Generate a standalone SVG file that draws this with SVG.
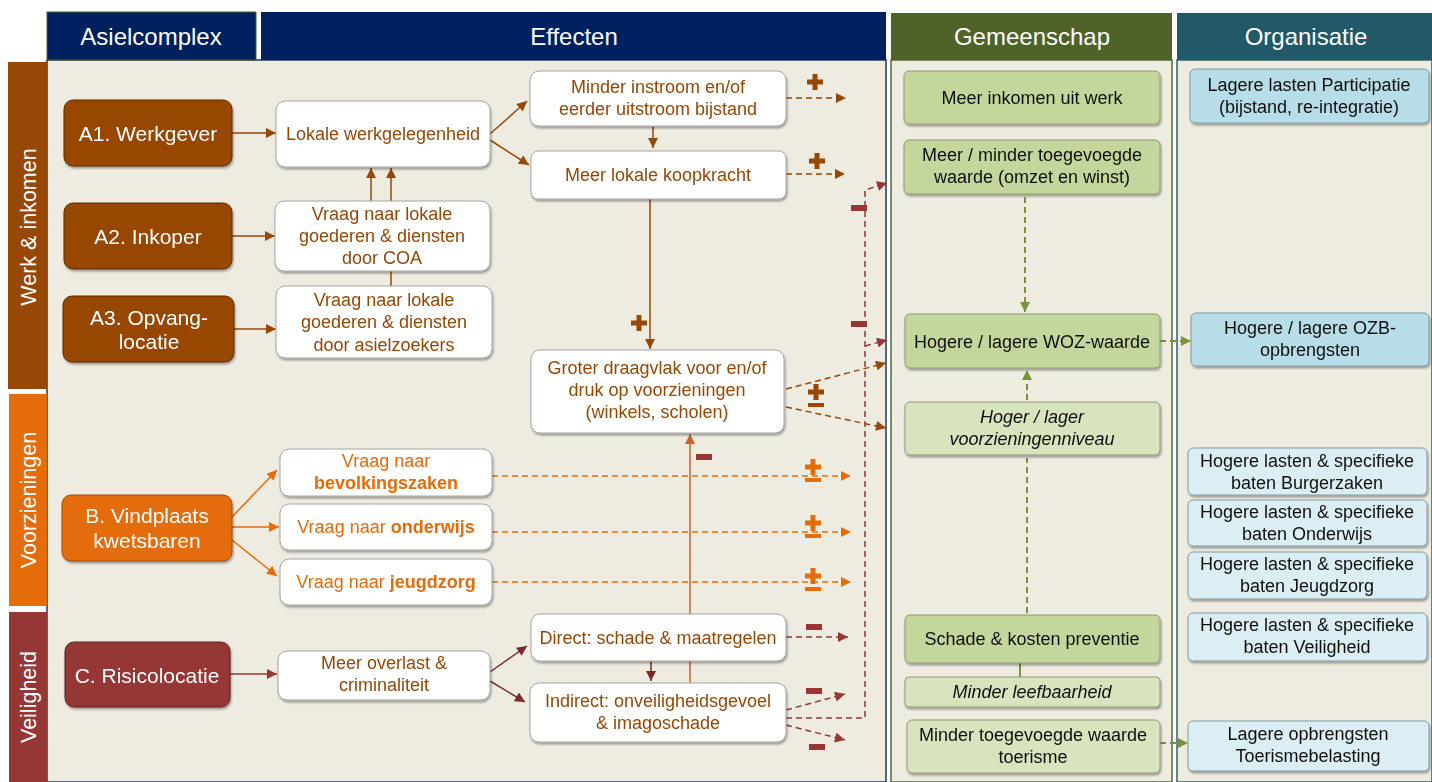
<svg xmlns="http://www.w3.org/2000/svg" width="1432" height="782" viewBox="0 0 1432 782">
<style>
text{font-family:"Liberation Sans",Arial,sans-serif;text-anchor:middle}
.hd{font-size:24px;fill:#fff}
.side{font-size:21.5px;fill:#fff}
.src{font-size:21px;fill:#fff}
.w{fill:#fff;stroke:#a6a6a6;stroke-width:1}
.t{font-size:18px;fill:#974706}
.to{font-size:18px;fill:#e46c0a}
.b{font-weight:bold}
.g1{fill:#c3d69b;stroke:#8c9a72;stroke-width:1}
.g2{fill:#d7e4bd;stroke:#8c9a72;stroke-width:1}
.o1{fill:#b7dde8;stroke:#7f9aa3;stroke-width:1}
.o2{fill:#dbeef4;stroke:#7f9aa3;stroke-width:1}
.k{font-size:18px;fill:#111}
.i{font-style:italic}
.c{fill:none;stroke-width:1.5}
.br{stroke:#974706}
.or{stroke:#e46c0a}
.rd{stroke:#953735}
.dr{stroke:#772c2a}
.ob{stroke:#c0652b}
.gr{stroke:#77933c;stroke-width:2}
.d{stroke-dasharray:6 4}
</style>
<defs>
<filter id="sh" x="-5%" y="-5%" width="112%" height="125%"><feDropShadow dx="1" dy="2" stdDeviation="1.3" flood-color="#000" flood-opacity="0.35"/></filter>
<marker id="mb" viewBox="0 0 10 10" refX="10" refY="5" markerWidth="11" markerHeight="10" markerUnits="userSpaceOnUse" orient="auto"><path d="M0,0L10,5L0,10z" fill="#974706"/></marker>
<marker id="mo" viewBox="0 0 10 10" refX="10" refY="5" markerWidth="11" markerHeight="10" markerUnits="userSpaceOnUse" orient="auto"><path d="M0,0L10,5L0,10z" fill="#e46c0a"/></marker>
<marker id="mr" viewBox="0 0 10 10" refX="10" refY="5" markerWidth="11" markerHeight="10" markerUnits="userSpaceOnUse" orient="auto"><path d="M0,0L10,5L0,10z" fill="#953735"/></marker>
<marker id="md" viewBox="0 0 10 10" refX="10" refY="5" markerWidth="11" markerHeight="10" markerUnits="userSpaceOnUse" orient="auto"><path d="M0,0L10,5L0,10z" fill="#772c2a"/></marker>
<marker id="mob" viewBox="0 0 10 10" refX="10" refY="5" markerWidth="11" markerHeight="10" markerUnits="userSpaceOnUse" orient="auto"><path d="M0,0L10,5L0,10z" fill="#c0652b"/></marker>
<marker id="mg" viewBox="0 0 10 10" refX="10" refY="5" markerWidth="10" markerHeight="10" markerUnits="userSpaceOnUse" orient="auto"><path d="M0,0L10,5L0,10z" fill="#77933c"/></marker>
<path id="plus" d="M-2.5,-8H2.5V-2.5H8V2.5H2.5V8H-2.5V2.5H-8V-2.5H-2.5z"/>
<rect id="minus" x="-8" y="-3" width="16" height="6"/>
<path id="pm" d="M-2.5,-8H2.5V-2.5H8V2.5H2.5V8H-2.5V2.5H-8V-2.5H-2.5zM-8,11H8V15H-8z"/>
</defs>
<rect width="1432" height="782" fill="#fff"/>

<g id="panels">
<rect x="47" y="60" width="839" height="722" fill="#eeece1" stroke="#1f3864" stroke-width="1.5"/>
<rect x="891" y="60" width="281" height="722" fill="#eeece1" stroke="#4f6b3a" stroke-width="1.5"/>
<rect x="1177" y="60" width="255" height="722" fill="#eeece1" stroke="#31616e" stroke-width="1.5"/>
</g>

<g id="headers">
<rect x="47" y="12" width="209" height="48" fill="#002060" stroke="#4f6228" stroke-width="1"/>
<text class="hd" x="151" y="45">Asielcomplex</text>
<rect x="261" y="12" width="625" height="48" fill="#002060"/>
<text class="hd" x="574" y="45">Effecten</text>
<rect x="891" y="13" width="281" height="47" fill="#4f6228"/>
<text class="hd" x="1032" y="45">Gemeenschap</text>
<rect x="1177" y="13" width="255" height="47" fill="#215968"/>
<text class="hd" x="1306" y="45">Organisatie</text>
</g>

<g id="sidebars">
<rect x="8" y="62" width="39" height="327" fill="#974706"/>
<text class="side" transform="translate(36,227) rotate(-90)">Werk &amp; inkomen</text>
<rect x="9" y="394" width="38" height="212" fill="#e46c0a"/>
<text class="side" transform="translate(36,500) rotate(-90)">Voorzieningen</text>
<rect x="9" y="612" width="38" height="170" fill="#953735"/>
<text class="side" transform="translate(36,697) rotate(-90)">Veiligheid</text>
</g>

<g id="connectors">
<path class="c br" d="M232,133H276" marker-end="url(#mb)"/>
<path class="c br" d="M232,236H275" marker-end="url(#mb)"/>
<path class="c br" d="M234,329H276" marker-end="url(#mb)"/>
<path class="c br" d="M371,201V168" marker-end="url(#mb)"/>
<path class="c br" d="M391,286V168" marker-end="url(#mb)"/>
<path class="c br" d="M490,134L527,101" marker-end="url(#mb)"/>
<path class="c br" d="M490,140L529,165" marker-end="url(#mb)"/>
<path class="c br" d="M653,126V148" marker-end="url(#mb)"/>
<path class="c br" d="M650,199V349" marker-end="url(#mb)"/>
<path class="c br d" d="M786,98H846" marker-end="url(#mb)"/>
<path class="c br d" d="M786,174H845" marker-end="url(#mb)"/>
<path class="c br d" d="M786,389L886,363" marker-end="url(#mb)"/>
<path class="c br d" d="M786,407L886,428" marker-end="url(#mb)"/>
<path class="c or" d="M232,517L277,470" marker-end="url(#mo)"/>
<path class="c or" d="M232,527H279" marker-end="url(#mo)"/>
<path class="c or" d="M232,540L277,576" marker-end="url(#mo)"/>
<path class="c or d" d="M492,476H851" marker-end="url(#mo)"/>
<path class="c or d" d="M492,532H851" marker-end="url(#mo)"/>
<path class="c or d" d="M492,582H851" marker-end="url(#mo)"/>
<path class="c rd" d="M230,674H277" marker-end="url(#mr)"/>
<path class="c dr" d="M490,672L527,646" marker-end="url(#md)"/>
<path class="c dr" d="M490,681L525,702" marker-end="url(#md)"/>
<path class="c dr" d="M651,661V681" marker-end="url(#md)"/>
<path class="c ob" d="M690,683V434" marker-end="url(#mob)"/>
<path class="c rd d" d="M786,637H848" marker-end="url(#mr)"/>
<path class="c rd d" d="M786,710L845,694" marker-end="url(#mr)"/>
<path class="c rd d" d="M786,725L845,740" marker-end="url(#mr)"/>
<path class="c rd d" d="M786,718H865V190L887,183" marker-end="url(#mr)"/>
<path class="c rd d" d="M865,346L887,340" marker-end="url(#mr)"/>
<path class="c gr d" d="M1025,197V312" marker-end="url(#mg)"/>
<path class="c gr d" d="M1027,400V370" marker-end="url(#mg)"/>
<path class="c gr d" d="M1027,613V458"/>
<path class="c gr" d="M1020,663V677"/>
<path class="c gr d" d="M1160,341H1191" marker-end="url(#mg)"/>
<path class="c gr d" d="M1160,743H1188" marker-end="url(#mg)"/>
</g>

<g id="signs">
<use href="#plus" x="815" y="82" fill="#974706"/>
<use href="#plus" x="817" y="161" fill="#974706"/>
<use href="#plus" x="639" y="323" fill="#974706"/>
<use href="#pm" x="816" y="392" fill="#974706"/>
<use href="#pm" x="813" y="467" fill="#e46c0a"/>
<use href="#pm" x="813" y="523" fill="#e46c0a"/>
<use href="#pm" x="813" y="576" fill="#e46c0a"/>
<use href="#minus" x="859" y="208" fill="#953735"/>
<use href="#minus" x="859" y="324" fill="#953735"/>
<use href="#minus" x="704" y="457" fill="#953735"/>
<use href="#minus" x="814" y="627" fill="#953735"/>
<use href="#minus" x="814" y="691" fill="#953735"/>
<use href="#minus" x="817" y="747" fill="#953735"/>
</g>

<g id="A1" filter="url(#sh)"><rect x="64" y="100" width="168" height="66" rx="9" fill="#974706" stroke="#5e2c04"/><text class="src" x="148" y="141">A1. Werkgever</text></g>
<g id="A2" filter="url(#sh)"><rect x="64" y="203" width="168" height="66" rx="9" fill="#974706" stroke="#5e2c04"/><text class="src" x="148" y="244">A2. Inkoper</text></g>
<g id="A3" filter="url(#sh)"><rect x="63" y="296" width="171" height="66" rx="9" fill="#974706" stroke="#5e2c04"/><text class="src" x="149" y="325">A3. Opvang-</text><text class="src" x="149" y="349">locatie</text></g>
<g id="B" filter="url(#sh)"><rect x="62" y="495" width="170" height="66" rx="9" fill="#e46c0a" stroke="#a04c07"/><text class="src" x="147" y="523">B. Vindplaats</text><text class="src" x="147" y="548">kwetsbaren</text></g>
<g id="C" filter="url(#sh)"><rect x="65" y="642" width="165" height="65" rx="9" fill="#953735" stroke="#5f2322"/><text class="src" x="147" y="683">C. Risicolocatie</text></g>

<g id="werkgelegenheid" filter="url(#sh)"><rect class="w" x="276" y="101" width="214" height="66" rx="9"/><text class="t" x="383" y="140">Lokale werkgelegenheid</text></g>
<g id="coa" filter="url(#sh)"><rect class="w" x="275" y="201" width="215" height="70" rx="9"/><text class="t" x="382" y="220">Vraag naar lokale</text><text class="t" x="382" y="242">goederen &amp; diensten</text><text class="t" x="382" y="264">door COA</text></g>
<g id="asielzoekers" filter="url(#sh)"><rect class="w" x="276" y="286" width="216" height="72" rx="9"/><text class="t" x="384" y="306">Vraag naar lokale</text><text class="t" x="384" y="328">goederen &amp; diensten</text><text class="t" x="384" y="351">door asielzoekers</text></g>
<g id="instroom" filter="url(#sh)"><rect class="w" x="530" y="71" width="256" height="55" rx="9"/><text class="t" x="658" y="93">Minder instroom en/of</text><text class="t" x="658" y="115">eerder uitstroom bijstand</text></g>
<g id="koopkracht" filter="url(#sh)"><rect class="w" x="531" y="151" width="255" height="48" rx="7"/><text class="t" x="658" y="181">Meer lokale koopkracht</text></g>
<g id="draagvlak" filter="url(#sh)"><rect class="w" x="531" y="350" width="253" height="83" rx="9"/><text class="t" x="657" y="374">Groter draagvlak voor en/of</text><text class="t" x="657" y="396">druk op voorzieningen</text><text class="t" x="657" y="418">(winkels, scholen)</text></g>
<g id="bevolkingszaken" filter="url(#sh)"><rect class="w" x="280" y="449" width="212" height="47" rx="9"/><text class="to" x="386" y="467">Vraag naar</text><text class="to b" x="386" y="489">bevolkingszaken</text></g>
<g id="onderwijs" filter="url(#sh)"><rect class="w" x="280" y="504" width="212" height="46" rx="9"/><text class="to" x="386" y="533">Vraag naar <tspan class="b">onderwijs</tspan></text></g>
<g id="jeugdzorg" filter="url(#sh)"><rect class="w" x="280" y="559" width="212" height="46" rx="9"/><text class="to" x="386" y="588">Vraag naar <tspan class="b">jeugdzorg</tspan></text></g>
<g id="overlast" filter="url(#sh)"><rect class="w" x="278" y="651" width="212" height="49" rx="9"/><text class="t" x="384" y="669">Meer overlast &amp;</text><text class="t" x="384" y="691">criminaliteit</text></g>
<g id="direct" filter="url(#sh)"><rect class="w" x="531" y="614" width="255" height="47" rx="9"/><text class="t" x="658" y="644">Direct: schade &amp; maatregelen</text></g>
<g id="indirect" filter="url(#sh)"><rect class="w" x="530" y="683" width="256" height="59" rx="9"/><text class="t" x="658" y="707">Indirect: onveiligheidsgevoel</text><text class="t" x="658" y="729">&amp; imagoschade</text></g>

<g id="inkomen" filter="url(#sh)"><rect class="g1" x="904" y="71" width="256" height="53" rx="5"/><text class="k" x="1032" y="104">Meer inkomen uit werk</text></g>
<g id="toegevoegd" filter="url(#sh)"><rect class="g1" x="904" y="140" width="256" height="54" rx="5"/><text class="k" x="1032" y="161">Meer / minder toegevoegde</text><text class="k" x="1032" y="183">waarde (omzet en winst)</text></g>
<g id="woz" filter="url(#sh)"><rect class="g1" x="905" y="314" width="255" height="54" rx="5"/><text class="k" x="1032" y="348">Hogere / lagere WOZ-waarde</text></g>
<g id="voorzieningenniveau" filter="url(#sh)"><rect class="g2" x="905" y="402" width="255" height="53" rx="5"/><text class="k i" x="1032" y="423">Hoger / lager</text><text class="k i" x="1032" y="445">voorzieningenniveau</text></g>
<g id="schade" filter="url(#sh)"><rect class="g1" x="905" y="615" width="255" height="48" rx="5"/><text class="k" x="1032" y="645">Schade &amp; kosten preventie</text></g>
<g id="leefbaarheid" filter="url(#sh)"><rect class="g2" x="905" y="677" width="255" height="30" rx="4"/><text class="k i" x="1032" y="698">Minder leefbaarheid</text></g>
<g id="toerisme" filter="url(#sh)"><rect class="g2" x="907" y="720" width="253" height="53" rx="5"/><text class="k" x="1033" y="741">Minder toegevoegde waarde</text><text class="k" x="1033" y="763">toerisme</text></g>

<g id="participatie" filter="url(#sh)"><rect class="o1" x="1190" y="69" width="239" height="54" rx="5"/><text class="k" x="1309" y="91">Lagere lasten Participatie</text><text class="k" x="1309" y="113">(bijstand, re-integratie)</text></g>
<g id="ozb" filter="url(#sh)"><rect class="o1" x="1191" y="313" width="238" height="53" rx="5"/><text class="k" x="1310" y="334">Hogere / lagere OZB-</text><text class="k" x="1310" y="356">opbrengsten</text></g>
<g id="burgerzaken" filter="url(#sh)"><rect class="o2" x="1188" y="448" width="239" height="47" rx="5"/><text class="k" x="1307" y="467">Hogere lasten &amp; specifieke</text><text class="k" x="1307" y="489">baten Burgerzaken</text></g>
<g id="org-onderwijs" filter="url(#sh)"><rect class="o2" x="1188" y="500" width="239" height="46" rx="5"/><text class="k" x="1307" y="518">Hogere lasten &amp; specifieke</text><text class="k" x="1307" y="540">baten Onderwijs</text></g>
<g id="org-jeugdzorg" filter="url(#sh)"><rect class="o2" x="1188" y="552" width="239" height="47" rx="5"/><text class="k" x="1307" y="570">Hogere lasten &amp; specifieke</text><text class="k" x="1307" y="592">baten Jeugdzorg</text></g>
<g id="org-veiligheid" filter="url(#sh)"><rect class="o2" x="1188" y="613" width="239" height="48" rx="5"/><text class="k" x="1307" y="631">Hogere lasten &amp; specifieke</text><text class="k" x="1307" y="653">baten Veiligheid</text></g>
<g id="toerismebelasting" filter="url(#sh)"><rect class="o2" x="1188" y="721" width="241" height="50" rx="5"/><text class="k" x="1308" y="740">Lagere opbrengsten</text><text class="k" x="1308" y="762">Toerismebelasting</text></g>
</svg>
